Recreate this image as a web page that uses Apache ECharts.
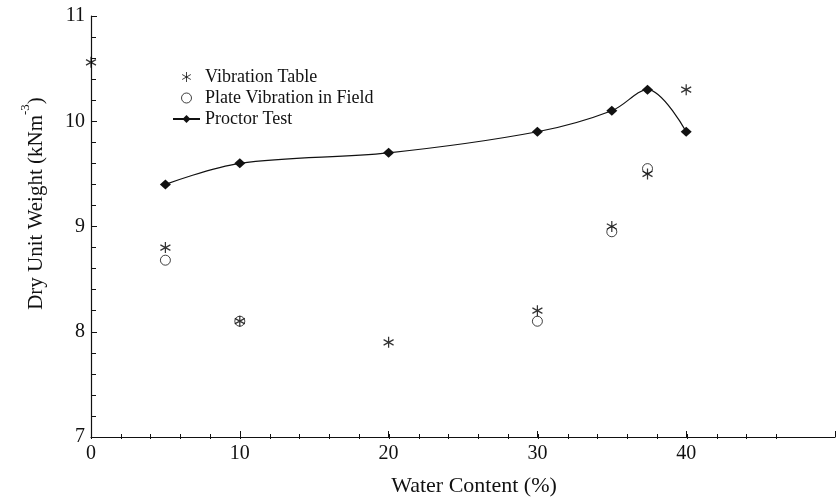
<!DOCTYPE html>
<html>
<head>
<meta charset="utf-8">
<script src="https://cdn.jsdelivr.net/npm/echarts@6/dist/echarts.min.js"></script>
<style>html,body{margin:0;padding:0;background:#fff;}#chart{width:838px;height:502px;}</style>
</head>
<body>
<div id="chart"></div>
<script>
// Data
var vibTableX = [0, 5, 10, 20, 30, 35, 37.4, 40];
var vibTableY = [10.56, 8.8, 8.1, 7.9, 8.2, 9.0, 9.5, 10.3];
var plateX = [5, 10, 30, 35, 37.4];
var plateY = [8.68, 8.1, 8.1, 8.95, 9.55];
var proctorX = [5, 10, 20, 30, 35, 37.4, 40];
var proctorY = [9.4, 9.6, 9.7, 9.9, 10.1, 10.3, 9.9];
var xTickLabels = ['0', '10', '20', '30', '40'];
var yTickLabels = ['7', '8', '9', '10', '11'];

function zip(xs, ys) { return xs.map(function (x, i) { return [x, ys[i]]; }); }

var FONT = 'Liberation Serif';
var INK = '#111';
var chart = echarts.init(document.getElementById('chart'), null, { renderer: 'canvas' });
var asterisk = 'path://M5,0L5,10M0.67,2.5L9.33,7.5M0.67,7.5L9.33,2.5';

chart.setOption({
  animation: false,
  backgroundColor: '#fff',
  grid: [
    { left: 91, right: 2, top: 16, bottom: 63 },
    { left: 91, width: 685.4, top: 16, bottom: 63 }
  ],
  legend: {
    orient: 'vertical',
    left: 167,
    top: 63,
    itemWidth: 27,
    itemHeight: 10,
    itemGap: 3,
    textStyle: { fontFamily: FONT, fontSize: 18, color: INK },
    data: [
      { name: 'Vibration Table', itemStyle: { color: 'rgba(0,0,0,0)', borderColor: INK, borderWidth: 1 } },
      { name: 'Plate Vibration in Field', itemStyle: { color: 'rgba(255,255,255,0)', borderColor: INK, borderWidth: 1 } },
      { name: 'Proctor Test' }
    ]
  },
  xAxis: [
    {
      type: 'value', gridIndex: 0, min: 0, max: 50, interval: 10,
      name: 'Water Content (%)', nameLocation: 'middle', nameGap: 38,
      nameTextStyle: { fontFamily: FONT, fontSize: 22, color: INK, padding: [0, 0, 0, 22] },
      axisLine: { show: true, lineStyle: { color: INK, width: 1.2 } },
      axisTick: { show: true, inside: true, length: 6, lineStyle: { color: INK } },
      axisLabel: {
        margin: 7, fontFamily: FONT, fontSize: 20, color: INK,
        formatter: function (v) { var s = String(v); return xTickLabels.indexOf(s) >= 0 ? s : ''; }
      },
      splitLine: { show: false }
    },
    {
      type: 'value', gridIndex: 1, min: 0, max: 46, interval: 2,
      axisLine: { show: false },
      axisTick: { show: true, inside: true, length: 5, lineStyle: { color: INK } },
      axisLabel: { show: false },
      splitLine: { show: false }
    }
  ],
  yAxis: [
    {
      type: 'value', gridIndex: 0, min: 7, max: 11, interval: 1,
      name: '{a|Dry Unit Weight (kNm}{s|-3}{a|)}',
      nameLocation: 'middle', nameRotate: 90, nameGap: 44,
      nameTextStyle: {
        fontFamily: FONT, fontSize: 21, color: INK, padding: [0, 0, 0, 46],
        rich: {
          a: { fontFamily: FONT, fontSize: 21, color: INK, lineHeight: 28, verticalAlign: 'bottom' },
          s: { fontFamily: FONT, fontSize: 13, color: INK, lineHeight: 14, verticalAlign: 'top' }
        }
      },
      axisLine: { show: true, lineStyle: { color: INK, width: 1.2 } },
      axisTick: { show: true, inside: true, length: 6, lineStyle: { color: INK } },
      minorTick: { show: true, splitNumber: 5, length: 5, lineStyle: { color: INK } },
      axisLabel: {
        margin: 6, fontFamily: FONT, fontSize: 20, color: INK,
        formatter: function (v) { var s = String(v); return yTickLabels.indexOf(s) >= 0 ? s : ''; }
      },
      splitLine: { show: false }
    },
    { type: 'value', gridIndex: 1, min: 7, max: 11, show: false }
  ],
  series: [
    {
      name: 'Vibration Table', type: 'scatter', xAxisIndex: 0, yAxisIndex: 0,
      symbol: asterisk, symbolSize: [10, 11],
      itemStyle: { color: 'rgba(0,0,0,0)', borderColor: '#000', borderWidth: 1.3 },
      data: zip(vibTableX, vibTableY), z: 3
    },
    {
      name: 'Plate Vibration in Field', type: 'scatter', xAxisIndex: 0, yAxisIndex: 0,
      symbol: 'circle', symbolSize: 10,
      itemStyle: { color: 'rgba(255,255,255,0)', borderColor: INK, borderWidth: 1 },
      data: zip(plateX, plateY), z: 4
    },
    {
      name: 'Proctor Test', type: 'line', xAxisIndex: 0, yAxisIndex: 0,
      symbol: 'diamond', symbolSize: [11, 10], showAllSymbol: true,
      smooth: 0.35,
      itemStyle: { color: INK },
      lineStyle: { color: INK, width: 1.2 },
      data: zip(proctorX, proctorY), z: 2
    }
  ]
});
</script>
</body>
</html>
